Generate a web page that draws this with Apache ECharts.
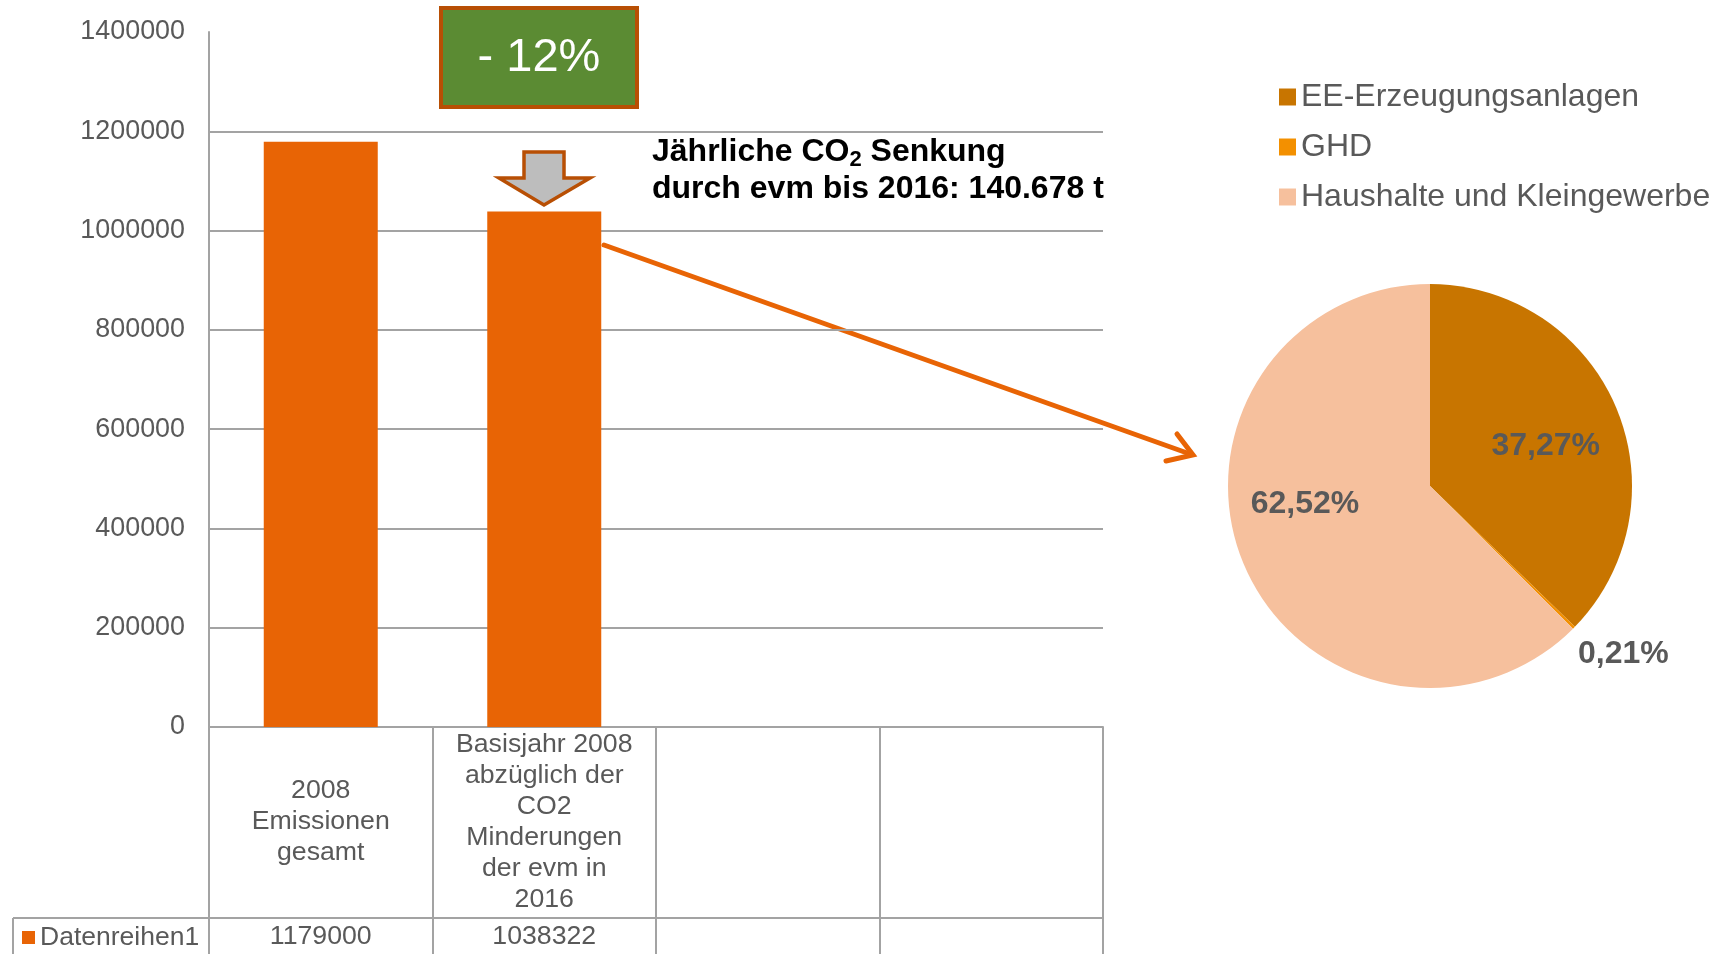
<!DOCTYPE html>
<html lang="de">
<head>
<meta charset="utf-8">
<title>CO2 Senkung evm</title>
<script src="https://cdn.jsdelivr.net/npm/echarts@6/dist/echarts.min.js"></script>
<style>
  html, body { margin: 0; padding: 0; background: #fff; }
  #chart { width: 1724px; height: 954px; }
</style>
</head>
<body>
<div id="chart"></div>
<script>
// Balken: Kategorien (zwei leere Spalten in der Datentabelle)
var categories = [
  '2008\nEmissionen\ngesamt',
  'Basisjahr 2008\nabzüglich der\nCO2\nMinderungen\nder evm in\n2016',
  '',
  ''
];
var barValues = [1179000, 1038322];
var barName = 'Datenreihen1';

// Tortendiagramm
var pieNames = ['EE-Erzeugungsanlagen', 'GHD', 'Haushalte und Kleingewerbe'];
var pieValues = [37.27, 0.21, 62.52];
var pieColors = ['#C87500', '#F39000', '#F6C09D'];

var yTicks = { min: 0, max: 1400000, step: 200000 };

var FONT = "'Liberation Sans', Arial, sans-serif";
var GREY = '#595959';
var LINE = '#A3A3A3';
var ORANGE = '#E86405';

// Verschiebung der Tortenbeschriftungen (wie in Excel "optimal")
var labelShift = [
  { dx: 20, dy: 1 },
  { dx: -1, dy: 26 },
  { dx: -29, dy: -22 }
];

var tableRow = categories.map(function (c, i) {
  return barValues[i] != null ? String(barValues[i]) : '';
});

var chart = echarts.init(document.getElementById('chart'));

var option = {
  backgroundColor: '#fff',
  animation: false,
  textStyle: { fontFamily: FONT },
  grid: { left: 209, right: 621, top: 32, bottom: 227 },
  legend: [
    {
      data: [barName],
      left: 22, top: 924, padding: 0,
      icon: 'rect', itemWidth: 13, itemHeight: 13,
      textStyle: { fontSize: 26.5, color: GREY, fontFamily: FONT }
    },
    {
      data: pieNames,
      orient: 'vertical',
      left: 1279, top: 81, padding: 0,
      icon: 'rect', itemWidth: 17, itemHeight: 17, itemGap: 18,
      textStyle: { fontSize: 32, color: GREY, fontFamily: FONT }
    }
  ],
  xAxis: [
    {
      type: 'category',
      data: categories,
      axisLine: { lineStyle: { color: LINE, width: 2 } },
      axisTick: { show: true, length: 227, lineStyle: { color: LINE, width: 2 } },
      axisLabel: {
        interval: 0, margin: 95, verticalAlign: 'middle',
        fontSize: 26.7, lineHeight: 31, color: GREY, fontFamily: FONT
      }
    },
    {
      type: 'category',
      position: 'bottom',
      data: tableRow,
      axisLine: { show: false },
      axisTick: { show: false },
      axisLabel: {
        interval: 0, margin: 210, verticalAlign: 'middle',
        fontSize: 26.7, color: GREY, fontFamily: FONT
      }
    }
  ],
  yAxis: {
    type: 'value',
    min: yTicks.min, max: yTicks.max, interval: yTicks.step,
    axisLine: { show: true, lineStyle: { color: LINE, width: 2 } },
    axisTick: { show: false },
    axisLabel: {
      fontSize: 26.9, color: GREY, margin: 24, fontFamily: FONT,
      formatter: function (v) { return String(v); }
    },
    splitLine: { show: true, showMaxLine: false, lineStyle: { color: LINE, width: 2 } }
  },
  series: [
    {
      name: barName,
      type: 'bar',
      data: barValues,
      barWidth: 114,
      itemStyle: { color: ORANGE }
    },
    {
      name: 'Anteile',
      type: 'pie',
      center: [1430, 486],
      radius: 202,
      startAngle: 90,
      data: pieNames.map(function (n, i) {
        return {
          name: n, value: pieValues[i],
          itemStyle: { color: pieColors[i] },
          label: { position: i === 1 ? 'outside' : 'inside' }
        };
      }),
      itemStyle: { borderWidth: 0 },
      label: {
        show: true,
        formatter: function (p) { return p.value.toFixed(2).replace('.', ',') + '%'; },
        fontSize: 32, fontWeight: 'bold', color: GREY, fontFamily: FONT
      },
      labelLine: { show: false, length: 0, length2: 0 },
      labelLayout: function (p) { return labelShift[p.dataIndex]; },
      emphasis: { disabled: true }
    }
  ],
  graphic: [
    // - 12% Kasten
    {
      type: 'rect',
      shape: { x: 441, y: 8, width: 196, height: 99 },
      style: { fill: '#5B8B33', stroke: '#B84F04', lineWidth: 4 }
    },
    {
      type: 'text', x: 539, y: 58,
      style: {
        text: '- 12%', fill: '#fff', fontSize: 47, fontFamily: FONT,
        align: 'center', verticalAlign: 'middle'
      }
    },
    // grauer Pfeil
    {
      type: 'polygon',
      shape: { points: [[524, 152], [564, 152], [564, 178], [590, 178], [544, 205], [499, 178], [524, 178]] },
      style: { fill: '#BDBDBD', stroke: '#B84F04', lineWidth: 3.5 }
    },
    {
      type: 'text', x: 652, y: 171,
      style: {
        text: 'Jährliche CO{sub|2} Senkung\ndurch evm bis 2016: 140.678 t',
        fill: '#000', fontSize: 32, fontWeight: 'bold', fontFamily: FONT,
        lineHeight: 37, verticalAlign: 'middle',
        rich: {
          sub: { fontSize: 22, fontWeight: 'bold', fill: '#000', fontFamily: FONT, verticalAlign: 'bottom', lineHeight: 37 }
        }
      }
    },
    // orange Linie zum Tortendiagramm
    {
      type: 'line',
      shape: { x1: 604, y1: 245, x2: 1190, y2: 454 },
      style: { stroke: ORANGE, lineWidth: 5, lineCap: 'round' }
    },
    {
      type: 'polyline',
      shape: { points: [[1177, 434], [1193, 455], [1166, 461]] },
      style: { stroke: ORANGE, lineWidth: 5, lineCap: 'round', lineJoin: 'miter', fill: null }
    },
    // Datentabelle
    {
      type: 'line',
      shape: { x1: 13, y1: 918, x2: 1103, y2: 918 },
      style: { stroke: LINE, lineWidth: 2 }
    },
    {
      type: 'line',
      shape: { x1: 13, y1: 918, x2: 13, y2: 954 },
      style: { stroke: LINE, lineWidth: 2 }
    }
  ]
};

chart.setOption(option);
</script>
</body>
</html>
